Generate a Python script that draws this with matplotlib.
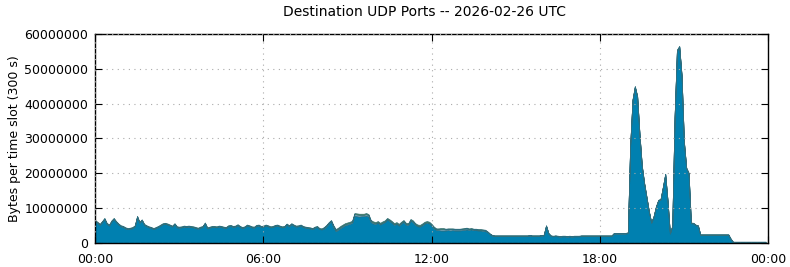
import numpy as np
import matplotlib
matplotlib.use("Agg")
import matplotlib.pyplot as plt
from matplotlib.ticker import FuncFormatter

# bytes per 300 s slot, in millions, one row per hour (12 slots)
udp_main = [
    6.3, 5.8, 5.2, 6.0, 6.9, 5.5, 5.0, 6.2, 6.9, 6.0, 5.3, 4.8,
    4.6, 4.2, 4.0, 4.1, 4.3, 4.8, 7.5, 5.8, 6.5, 5.2, 4.8, 4.5,
    4.3, 4.0, 4.3, 4.6, 5.0, 5.4, 5.5, 5.3, 5.0, 4.7, 5.4, 4.5,
    4.4, 4.5, 4.7, 4.6, 4.7, 4.6, 4.5, 4.3, 4.1, 4.4, 4.6, 5.6,
    4.2, 4.4, 4.6, 4.6, 4.5, 4.7, 4.6, 4.4, 4.3, 4.8, 4.9, 4.6,
    4.7, 5.1, 4.6, 4.3, 4.5, 5.0, 4.8, 4.5, 4.4, 4.9, 5.0, 4.6,
    4.7, 5.0, 4.8, 4.5, 4.6, 4.9, 5.0, 4.7, 4.5, 4.6, 5.3, 4.8,
    5.4, 5.0, 4.7, 4.8, 5.0, 4.6, 4.4, 4.3, 4.2, 4.0, 4.4, 4.6,
    4.0, 3.9, 4.2, 4.8, 5.6, 6.2, 4.5, 3.4, 3.8, 4.3, 4.7, 5.1,
    5.3, 5.5, 5.8, 7.9, 7.7, 7.6, 7.7, 7.7, 7.9, 7.6, 6.0, 5.6,
    5.5, 5.8, 5.3, 5.7, 6.0, 6.7, 6.3, 5.8, 5.2, 5.5, 5.0, 5.6,
    6.1, 5.3, 5.2, 6.4, 6.0, 5.2, 4.8, 4.7, 5.1, 5.6, 5.8, 5.6,
    5.0, 4.2, 3.8, 3.7, 3.6, 3.6, 3.6, 3.7, 3.6, 3.7, 3.6, 3.6,
    3.6, 3.7, 3.8, 3.9, 3.8, 3.9, 3.7, 3.7, 3.6, 3.6, 3.5, 3.4,
    3.1, 2.5, 2.1, 2.0, 2.0, 2.0, 2.0, 2.0, 2.0, 2.0, 2.0, 2.0,
    2.0, 2.0, 2.0, 2.0, 2.0, 2.0, 2.1, 2.0, 2.0, 2.0, 2.0, 2.1,
    2.2, 4.9, 2.7, 2.0, 1.9, 2.0, 1.9, 1.8, 1.9, 1.9, 1.8, 1.9,
    1.8, 1.9, 1.9, 1.9, 2.0, 2.0, 2.0, 2.0, 2.0, 2.0, 2.0, 2.0,
    2.0, 2.0, 2.0, 2.0, 2.0, 2.0, 2.7, 2.7, 2.7, 2.7, 2.7, 2.7,
    2.9, 28.0, 41.0, 44.8, 42.0, 31.0, 22.0, 17.0, 13.0, 9.0, 5.8, 7.5,
    10.3, 12.2, 12.5, 16.0, 19.7, 12.0, 2.7, 4.8, 36.0, 55.2, 56.3, 48.0,
    29.0, 21.4, 20.0, 5.7, 5.6, 5.1, 4.9, 2.3, 2.3, 2.3, 2.3, 2.3,
    2.3, 2.3, 2.3, 2.3, 2.3, 2.3, 2.3, 2.3, 1.1, 0.2, 0.2, 0.2,
    0.2, 0.2, 0.2, 0.2, 0.2, 0.2, 0.2, 0.2, 0.2, 0.2, 0.2, 0.2,
]

udp_second = [
    0.1, 0.1, 0.1, 0.1, 0.1, 0.1, 0.1, 0.1, 0.1, 0.1, 0.1, 0.1,
    0.1, 0.1, 0.1, 0.1, 0.1, 0.1, 0.1, 0.1, 0.1, 0.1, 0.1, 0.1,
    0.1, 0.1, 0.1, 0.1, 0.1, 0.1, 0.1, 0.1, 0.1, 0.1, 0.1, 0.1,
    0.1, 0.1, 0.1, 0.1, 0.1, 0.1, 0.1, 0.1, 0.1, 0.1, 0.1, 0.1,
    0.1, 0.1, 0.1, 0.1, 0.1, 0.1, 0.1, 0.1, 0.1, 0.1, 0.1, 0.1,
    0.1, 0.1, 0.1, 0.1, 0.1, 0.1, 0.1, 0.1, 0.1, 0.1, 0.1, 0.1,
    0.1, 0.1, 0.1, 0.1, 0.1, 0.1, 0.1, 0.1, 0.1, 0.1, 0.1, 0.1,
    0.1, 0.1, 0.1, 0.1, 0.1, 0.1, 0.1, 0.1, 0.1, 0.1, 0.1, 0.1,
    0.1, 0.1, 0.2, 0.2, 0.2, 0.2, 0.3, 0.3, 0.3, 0.3, 0.3, 0.3,
    0.3, 0.3, 0.3, 0.4, 0.5, 0.5, 0.4, 0.4, 0.4, 0.4, 0.3, 0.3,
    0.2, 0.2, 0.2, 0.2, 0.2, 0.2, 0.2, 0.2, 0.2, 0.2, 0.2, 0.2,
    0.2, 0.2, 0.2, 0.2, 0.2, 0.2, 0.2, 0.2, 0.2, 0.2, 0.2, 0.2,
    0.2, 0.2, 0.2, 0.3, 0.4, 0.4, 0.3, 0.3, 0.4, 0.3, 0.3, 0.3,
    0.3, 0.3, 0.3, 0.3, 0.2, 0.2, 0.2, 0.2, 0.2, 0.2, 0.2, 0.2,
    0.1, 0.1, 0.1, 0.1, 0.1, 0.1, 0.1, 0.1, 0.1, 0.1, 0.1, 0.1,
    0.1, 0.1, 0.1, 0.1, 0.1, 0.1, 0.1, 0.1, 0.1, 0.1, 0.1, 0.1,
    0.1, 0.1, 0.1, 0.1, 0.1, 0.1, 0.1, 0.1, 0.1, 0.1, 0.1, 0.1,
    0.1, 0.1, 0.1, 0.1, 0.1, 0.1, 0.1, 0.1, 0.1, 0.1, 0.1, 0.1,
    0.1, 0.1, 0.1, 0.1, 0.1, 0.1, 0.1, 0.1, 0.1, 0.1, 0.1, 0.1,
    0.1, 0.1, 0.1, 0.1, 0.1, 0.1, 0.1, 0.1, 0.1, 0.1, 0.1, 0.1,
    0.1, 0.1, 0.1, 0.1, 0.1, 0.1, 0.1, 0.1, 0.1, 0.1, 0.1, 0.1,
    0.1, 0.1, 0.1, 0.1, 0.1, 0.1, 0.1, 0.1, 0.1, 0.1, 0.1, 0.1,
    0.1, 0.1, 0.1, 0.1, 0.1, 0.1, 0.1, 0.1, 0.1, 0.1, 0.1, 0.1,
    0.1, 0.1, 0.1, 0.1, 0.1, 0.1, 0.1, 0.1, 0.1, 0.1, 0.1, 0.1,
]

udp_third = [
    0.2, 0.2, 0.2, 0.2, 0.2, 0.2, 0.2, 0.2, 0.2, 0.2, 0.2, 0.2,
    0.2, 0.2, 0.2, 0.2, 0.2, 0.2, 0.2, 0.2, 0.2, 0.2, 0.2, 0.2,
    0.2, 0.2, 0.2, 0.2, 0.2, 0.2, 0.2, 0.2, 0.2, 0.2, 0.2, 0.2,
    0.2, 0.2, 0.2, 0.2, 0.2, 0.2, 0.2, 0.2, 0.2, 0.2, 0.2, 0.2,
    0.2, 0.2, 0.2, 0.2, 0.2, 0.2, 0.2, 0.2, 0.2, 0.2, 0.2, 0.2,
    0.2, 0.2, 0.2, 0.2, 0.2, 0.2, 0.2, 0.2, 0.2, 0.2, 0.2, 0.2,
    0.2, 0.2, 0.2, 0.2, 0.2, 0.2, 0.2, 0.2, 0.2, 0.2, 0.2, 0.2,
    0.2, 0.2, 0.2, 0.2, 0.2, 0.2, 0.2, 0.2, 0.2, 0.2, 0.2, 0.2,
    0.2, 0.2, 0.2, 0.2, 0.2, 0.2, 0.3, 0.3, 0.3, 0.3, 0.3, 0.3,
    0.3, 0.3, 0.3, 0.3, 0.3, 0.3, 0.3, 0.3, 0.3, 0.3, 0.3, 0.3,
    0.3, 0.3, 0.3, 0.3, 0.3, 0.3, 0.3, 0.3, 0.3, 0.3, 0.3, 0.3,
    0.3, 0.3, 0.3, 0.3, 0.3, 0.3, 0.3, 0.3, 0.3, 0.3, 0.3, 0.3,
    0.3, 0.3, 0.2, 0.2, 0.3, 0.3, 0.2, 0.2, 0.2, 0.2, 0.2, 0.2,
    0.2, 0.2, 0.2, 0.2, 0.2, 0.2, 0.2, 0.2, 0.2, 0.2, 0.2, 0.2,
    0.1, 0.1, 0.1, 0.1, 0.1, 0.1, 0.1, 0.1, 0.1, 0.1, 0.1, 0.1,
    0.1, 0.1, 0.1, 0.1, 0.1, 0.1, 0.1, 0.1, 0.1, 0.1, 0.1, 0.1,
    0.1, 0.1, 0.1, 0.1, 0.1, 0.1, 0.1, 0.1, 0.1, 0.1, 0.1, 0.1,
    0.1, 0.1, 0.1, 0.1, 0.1, 0.1, 0.1, 0.1, 0.1, 0.1, 0.1, 0.1,
    0.1, 0.1, 0.1, 0.1, 0.1, 0.1, 0.1, 0.1, 0.1, 0.1, 0.1, 0.1,
    0.1, 0.2, 0.2, 0.2, 0.2, 0.2, 0.2, 0.2, 0.2, 0.1, 0.1, 0.1,
    0.1, 0.1, 0.1, 0.1, 0.1, 0.1, 0.1, 0.1, 0.2, 0.2, 0.2, 0.2,
    0.2, 0.2, 0.1, 0.1, 0.1, 0.1, 0.1, 0.1, 0.1, 0.1, 0.1, 0.1,
    0.1, 0.1, 0.1, 0.1, 0.1, 0.1, 0.1, 0.1, 0.1, 0.1, 0.1, 0.1,
    0.1, 0.1, 0.1, 0.1, 0.1, 0.1, 0.1, 0.1, 0.1, 0.1, 0.1, 0.1,
]

slot_hours = np.arange(len(udp_main)) * 5 / 60.0
main = np.array(udp_main) * 1e6
second = np.array(udp_second) * 1e6
third = np.array(udp_third) * 1e6

fig = plt.figure(figsize=(7.9, 2.67), dpi=100)
ax = fig.add_axes([0.1203, 0.0899, 0.8519, 0.7828])

ax.stackplot(slot_hours, main, second, third,
             colors=["#0080B0", "#8ab4c8", "#6f8f2a"],
             edgecolor="#2d6e80", linewidth=0.5)

ax.set_xlim(0, 24)
ax.set_ylim(0, 60000000)
ax.set_xticks([0, 6, 12, 18, 24])
ax.xaxis.set_major_formatter(FuncFormatter(lambda v, p: "%02d:00" % (int(v) % 24)))
ax.set_yticks(range(0, 60000001, 10000000))
ax.yaxis.set_major_formatter(FuncFormatter(lambda v, p: "%d" % v))

ax.tick_params(direction="in", top=True, right=True, labelsize=9, length=5)
ax.tick_params(axis="x", pad=7)
ax.tick_params(axis="y", pad=5)
ax.grid(True, linestyle=(0, (1, 4)), color="#aaaaaa", linewidth=0.8)
ax.set_axisbelow(False)
for s in ax.spines.values():
    s.set_linewidth(1.0)

ax.set_ylabel("Bytes per time slot (300 s)", fontsize=9, labelpad=2)
fig.text(0.5375, 0.955, "Destination UDP Ports -- 2026-02-26 UTC",
         ha="center", va="center", fontsize=10)

fig.savefig("out.png", dpi=100)
